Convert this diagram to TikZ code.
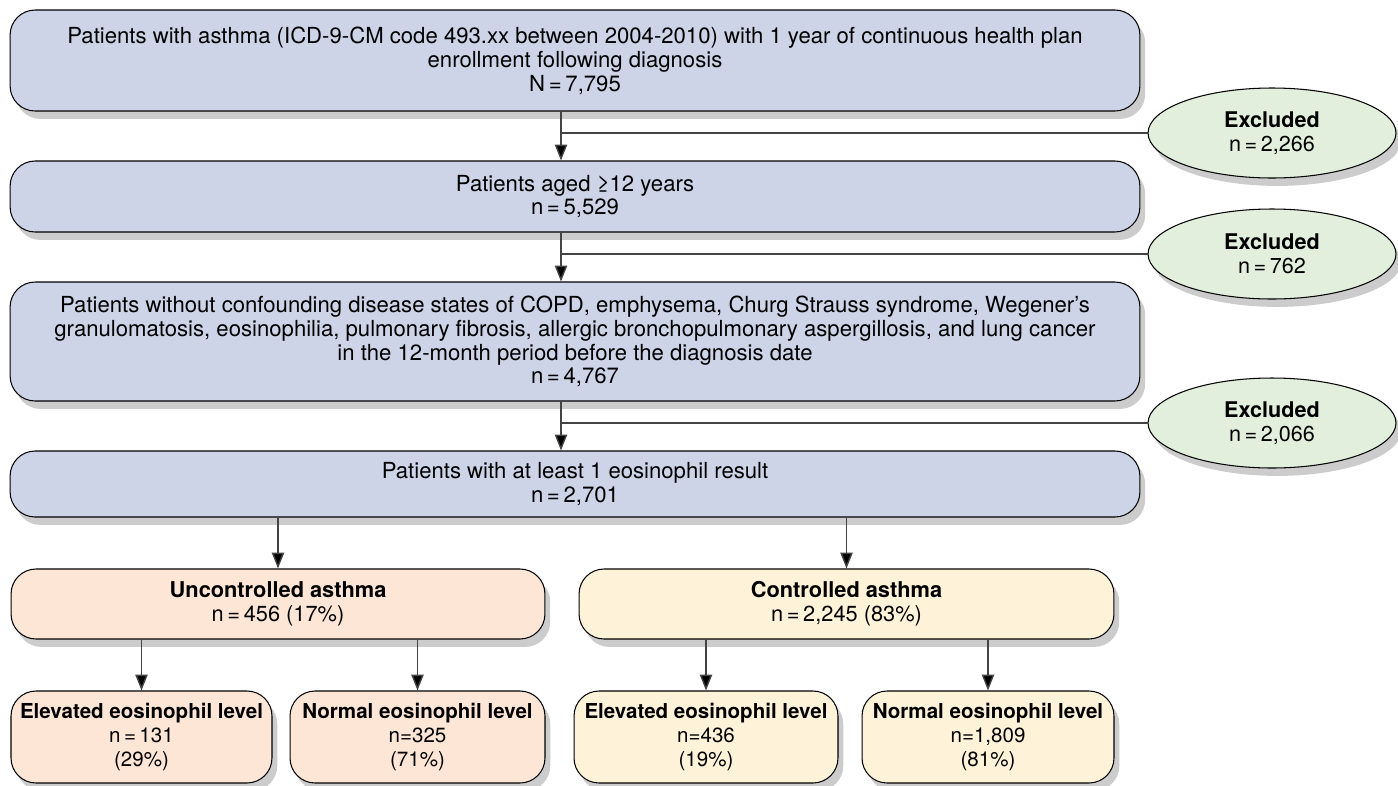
\documentclass[tikz,border=0pt]{standalone}
\usepackage{fontspec}
\setmainfont{TeX Gyre Heros}
\usetikzlibrary{shapes.geometric,shadows,arrows.meta}
\definecolor{stepblue}{HTML}{CDD4E8}
\definecolor{exclgreen}{HTML}{E2EFDC}
\definecolor{uncpeach}{HTML}{FDE6D5}
\definecolor{ctlcream}{HTML}{FEF2D9}
\definecolor{linegray}{HTML}{444444}
\begin{document}
\begin{tikzpicture}[x=0.02cm,y=-0.02cm,
  box/.style={draw, rectangle, rounded corners=0.5cm, align=center, line width=0.6pt,
    font=\fontsize{12.6}{13.6}\selectfont,
    drop shadow={shadow xshift=3pt, shadow yshift=-4.5pt, opacity=0.4}},
  stepbox/.style={box, fill=stepblue, minimum width=22.6cm},
  exclbox/.style={draw, ellipse, align=center, fill=exclgreen, line width=0.6pt,
    minimum width=4.96cm, minimum height=1.8cm, font=\fontsize{12.3}{13.4}\selectfont,
    drop shadow={shadow xshift=3pt, shadow yshift=-4.5pt, opacity=0.4}},
  ctlbox/.style={box, minimum height=1.4cm, font=\fontsize{12.4}{13.6}\selectfont},
  leafbox/.style={box, minimum height=1.84cm, font=\fontsize{11.7}{13.4}\selectfont},
  arr/.style={draw=linegray, line width=0.8pt, -{Triangle[length=9pt,width=7pt,fill=black]}},
  branch/.style={draw=linegray, line width=0.8pt}]
\useasboundingbox (0,0) rectangle (1398,785);
% screening steps
\node[stepbox, minimum height=2.02cm] (s1) at (575,60.5) {Patients with asthma (ICD-9-CM code 493.xx between 2004-2010) with 1 year of continuous health plan\\enrollment following diagnosis\\N\,=\,7,795};
\node[stepbox, minimum height=1.42cm] (s2) at (575,196.5) {Patients aged ≥12 years\\n\,=\,5,529};
\node[stepbox, minimum height=2.38cm] (s3) at (575,341.5) {Patients without confounding disease states of COPD, emphysema, Churg Strauss syndrome, Wegener’s\\granulomatosis, eosinophilia, pulmonary fibrosis, allergic bronchopulmonary aspergillosis, and lung cancer\\in the 12-month period before the diagnosis date\\n\,=\,4,767};
\node[stepbox, minimum height=1.32cm] (s4) at (575,484) {Patients with at least 1 eosinophil result\\n\,=\,2,701};
% exclusions
\node[exclbox] (x1) at (1272,133) {\textbf{Excluded}\\n\,=\,2,266};
\node[exclbox] (x2) at (1272,254) {\textbf{Excluded}\\n\,=\,762};
\node[exclbox] (x3) at (1272,423) {\textbf{Excluded}\\n\,=\,2,066};
% asthma control
\node[ctlbox, fill=uncpeach, minimum width=10.68cm] (unc) at (278,604) {\textbf{Uncontrolled asthma}\\n\,=\,456 (17\%)};
\node[ctlbox, fill=ctlcream, minimum width=10.7cm] (ctl) at (846.5,604) {\textbf{Controlled asthma}\\n\,=\,2,245 (83\%)};
% eosinophil levels
\node[leafbox, fill=uncpeach, minimum width=5.22cm] (ue) at (141.5,737) {\textbf{Elevated eosinophil level}\\n\,=\,131\\(29\%)};
\node[leafbox, fill=uncpeach, minimum width=5.1cm] (un) at (417.5,737) {\textbf{Normal eosinophil level}\\n=325\\(71\%)};
\node[leafbox, fill=ctlcream, minimum width=5.28cm] (ce) at (706,737) {\textbf{Elevated eosinophil level}\\n=436\\(19\%)};
\node[leafbox, fill=ctlcream, minimum width=5.04cm] (cn) at (988,737) {\textbf{Normal eosinophil level}\\n=1,809\\(81\%)};
% trunk points
\coordinate (t1) at (561,133);
\coordinate (t2) at (561,254);
\coordinate (t3) at (561,423);
\draw[arr] (t1 |- s1.south) -- (t1 |- s2.north);
\draw[arr] (t2 |- s2.south) -- (t2 |- s3.north);
\draw[arr] (t3 |- s3.south) -- (t3 |- s4.north);
\draw[branch] (t1) -- (x1.west);
\draw[branch] (t2) -- (x2.west);
\draw[branch] (t3) -- (x3.west);
\draw[arr] (unc.north |- s4.south) -- (unc.north);
\draw[arr] (ctl.north |- s4.south) -- (ctl.north);
\draw[arr] (ue.north |- unc.south) -- (ue.north);
\draw[arr] (un.north |- unc.south) -- (un.north);
\draw[arr] (ce.north |- ctl.south) -- (ce.north);
\draw[arr] (cn.north |- ctl.south) -- (cn.north);
\end{tikzpicture}
\end{document}
